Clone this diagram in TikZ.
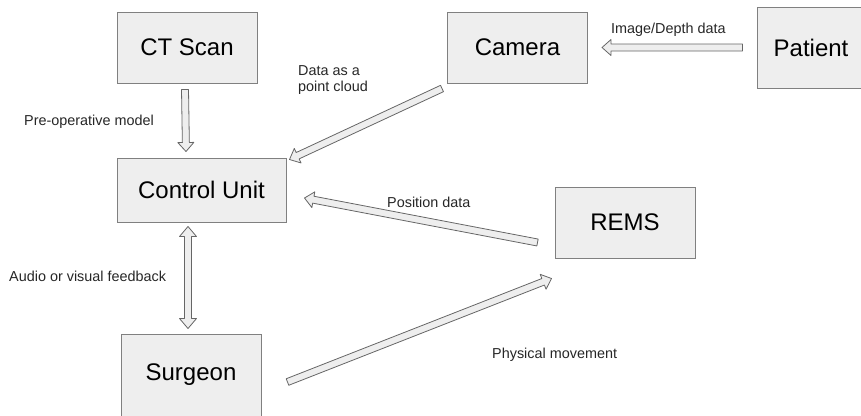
\documentclass[tikz,border=0pt]{standalone}
\usepackage{fontspec}
\setmainfont{Liberation Sans}
\usetikzlibrary{calc}

\definecolor{boxfill}{HTML}{EEEEEE}
\definecolor{boxline}{HTML}{808080}

\tikzset{
  unit/.style={draw=boxline, line width=1pt, fill=boxfill, minimum width=140pt,
    minimum height=71pt, inner sep=0pt, font=\fontsize{24}{28}\selectfont},
  flow/.style={draw=black!60, line width=0.8pt, fill=boxfill, line join=round},
  note/.style={font=\fontsize{14.4}{16.5}\selectfont, text=black!85, inner sep=0pt, align=left, anchor=west},
}

% hollow block arrow from #1 to #2
\newcommand{\flowarrow}[2]{%
  \coordinate (fa) at (#1);
  \coordinate (fb) at (#2);
  \coordinate (fc) at ($(fb)!9pt!(fa)$);
  \draw[flow] ($(fa)!3.5pt!90:(fb)$) -- ($(fc)!3.5pt!90:(fb)$) -- ($(fc)!8pt!90:(fb)$)
    -- (fb) -- ($(fc)!8pt!-90:(fb)$) -- ($(fc)!3.5pt!-90:(fb)$) -- ($(fa)!3.5pt!-90:(fb)$) -- cycle;}
% same, with a head at both ends
\newcommand{\flowarrows}[2]{%
  \coordinate (fa) at (#1);
  \coordinate (fb) at (#2);
  \coordinate (fc) at ($(fb)!10pt!(fa)$);
  \coordinate (fd) at ($(fa)!10pt!(fb)$);
  \draw[flow] (fa) -- ($(fd)!8.5pt!90:(fb)$) -- ($(fd)!3.5pt!90:(fb)$) -- ($(fc)!3.5pt!90:(fb)$)
    -- ($(fc)!8.5pt!90:(fb)$) -- (fb) -- ($(fc)!8.5pt!-90:(fb)$) -- ($(fc)!3.5pt!-90:(fb)$)
    -- ($(fd)!3.5pt!-90:(fb)$) -- ($(fd)!8.5pt!-90:(fb)$) -- cycle;}

\begin{document}
\begin{tikzpicture}[x=1pt, y=-1pt]
  \useasboundingbox (0,0) rectangle (861,415);

  \node[unit] (ct) at (187,47.5) {CT Scan};
  \node[unit] (cam) at (517.5,47.5) {Camera};
  \node[unit, minimum width=108pt, minimum height=81pt] (patient) at (811,47.5) {Patient};
  \node[unit, minimum width=169pt, minimum height=64pt] (ctrl) at (201.5,190) {Control Unit};
  \node[unit] (rems) at (625,222.5) {REMS};
  \node[unit, minimum height=82pt] (surg) at (191,375) {Surgeon};

  \flowarrow{$(ct.south)+(-2,6)$}{$(ctrl.north)+(-15.5,-6)$}
  \flowarrow{$(cam.south west)+(-5,5)$}{$(ctrl.north east)+(3,2)$}
  \flowarrow{$(patient.west)+(-14,0)$}{$(cam.east)+(14,0)$}
  \flowarrow{$(rems.west)+(-17,20)$}{$(ctrl.east)+(18,8)$}
  \flowarrows{$(ctrl.south)+(-13.5,4)$}{$(surg.north)+(-3,-5)$}
  \flowarrow{$(surg.east)+(26,7)$}{$(rems.south west)+(-3,20)$}

  \node[note] (lblmodel) at (24,122) {Pre-operative model};
  \node[note] (lblcloud) at (298,80) {Data as a\\point cloud};
  \node[note] (lbldepth) at (611,30) {Image/Depth data};
  \node[note] (lblpos) at (387,202) {Position data};
  \node[note] (lblfeed) at (9,276) {Audio or visual feedback};
  \node[note] (lblmove) at (492,355) {Physical movement};
\end{tikzpicture}
\end{document}
